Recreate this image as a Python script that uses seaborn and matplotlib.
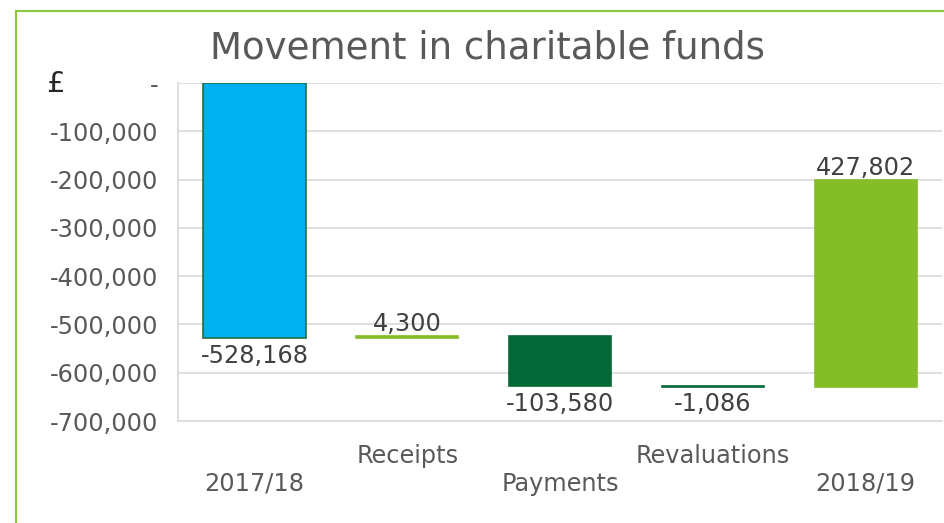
import pandas as pd
import seaborn as sns
import matplotlib.pyplot as plt
from matplotlib.patches import Rectangle
from matplotlib.ticker import FuncFormatter

# data
categories = ['2017/18', 'Receipts', 'Payments', 'Revaluations', '2018/19']
movements = [-528168, 4300, -103580, -1086, 427802]
bar_colours = ['#00B0F0', '#84BD28', '#056937', '#056937', '#84BD28']

# waterfall bases (2018/19 column floats up from the running total)
bottoms = [0, -528168, -523868, -627448, -628534]

df = pd.DataFrame({'category': categories, 'movement': movements,
                   'bottom': bottoms, 'colour': bar_colours})

sns.set_style('white')
plt.rcParams['font.family'] = ['DejaVu Sans']

fig = plt.figure(figsize=(9.44, 5.23), dpi=100)
ax = fig.add_axes([0.1886, 0.195, 0.8094, 0.6463])

for i, row in df.iterrows():
    edge = '#1F6F45' if i == 0 else row['colour']
    sns.barplot(x=[row['category']], y=[row['movement']], bottom=row['bottom'],
                order=categories, color=row['colour'], edgecolor=edge,
                linewidth=1.2, width=0.67, saturation=1, ax=ax)

ax.set_ylim(-700000, 0)
ax.set_yticks(range(-700000, 1, 100000))
ax.yaxis.set_major_formatter(FuncFormatter(lambda v, p: '-' if v == 0 else f'{v:,.0f}'))
ax.grid(axis='y', color='#D9D9D9', linewidth=1.2)
ax.set_axisbelow(True)
for s in ['top', 'right']:
    ax.spines[s].set_visible(False)
for s in ['left', 'bottom']:
    ax.spines[s].set_color('#D9D9D9')
    ax.spines[s].set_linewidth(1.2)

# staggered category labels
ax.set_xticks(range(len(categories)))
ax.set_xticklabels([c if i % 2 else '\n' + c for i, c in enumerate(categories)])
ax.tick_params(axis='x', length=0, pad=16.5, labelsize=17.3, labelcolor='#595959')
ax.tick_params(axis='y', length=0, pad=14, labelsize=17.3, labelcolor='#595959')
ax.set_xlabel('')
ax.set_ylabel('')

# value labels
for i, row in df.iterrows():
    top = row['bottom'] + max(row['movement'], 0)
    low = row['bottom'] + min(row['movement'], 0)
    if row['movement'] > 0:
        ax.annotate(f"{row['movement']:,}", (i, top), xytext=(0, 0),
                    textcoords='offset points', ha='center', va='bottom',
                    fontsize=17.3, color='#404040')
    else:
        ax.annotate(f"{row['movement']:,}", (i, low), xytext=(0, -4),
                    textcoords='offset points', ha='center', va='top',
                    fontsize=17.3, color='#404040')

fig.text(488 / 944, 1 - 48 / 523, 'Movement in charitable funds', ha='center', va='center',
         fontsize=26.7, color='#595959')
fig.text(55 / 944, 1 - 84 / 523, '£', ha='center', va='center',
         fontsize=21, color='#262626')

# outer border of the chart area
fig.patches.append(Rectangle((16 / 944, -0.2), 1.2, 0.2 + 1 - 11 / 523,
                             transform=fig.transFigure, fill=False,
                             edgecolor='#8CC63E', linewidth=1.5))

plt.savefig('out.png', dpi=100)
